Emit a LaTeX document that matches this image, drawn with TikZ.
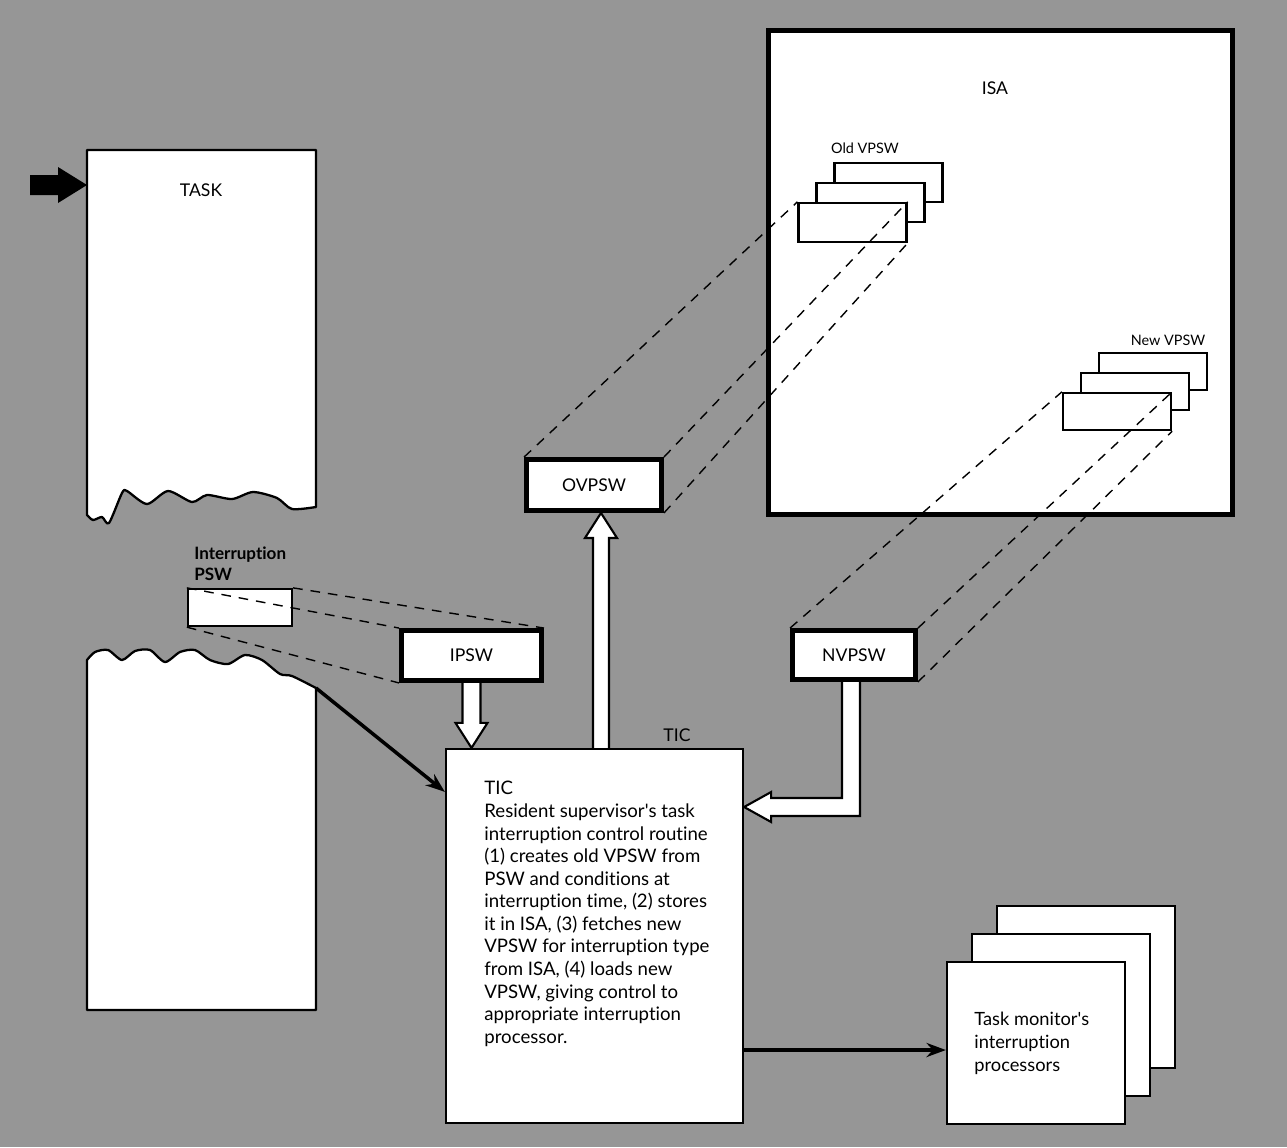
\documentclass[tikz,border=0pt]{standalone}
\usepackage{fontspec}
\setmainfont{Lato}[Ligatures={NoCommon}]
\usetikzlibrary{calc,arrows.meta}
\definecolor{bggray}{RGB}{150,150,150}
\pgfdeclarelayer{paper}
\pgfdeclarelayer{pipes}
\pgfsetlayers{paper,pipes,main}

\begin{document}
\begin{tikzpicture}[
    x=0.02cm, y=-0.02cm,
    every node/.style={inner sep=0pt, font=\fontsize{10}{12.75}\selectfont},
    thickbox/.style={draw, fill=white, line width=2.8pt},
    thinbox/.style={draw, fill=white, line width=1.3pt},
    projline/.style={dash pattern=on 5.5pt off 4.5pt, line width=0.8pt},
    hollow/.style={draw, fill=white, line width=1.2pt, line join=miter},
    flow/.style={line width=2pt, -{Stealth[length=11pt, width=8pt]}}
]

\begin{pgfonlayer}{paper}
\fill[bggray] (0,0) rectangle (1287,1147);

% task listing, upper part with torn edge
\draw[fill=white, line width=1.3pt, line join=round] (316,150) -- (87,150)
    -- plot[smooth, tension=0.45] coordinates {(87,515) (93,520) (102,517) (109,523)
    (122,493) (127,491) (147,504) (168,491) (192,502) (207,495) (232,499)
    (253,492) (277,498) (292,509) (316,507)} -- cycle;
\coordinate (taskin) at (87,185);

% task listing, lower part with torn edge
\draw[fill=white, line width=1.3pt, line join=round] (316,1010) -- (87,1010)
    -- plot[smooth, tension=0.45] coordinates {(87,660) (95,652) (108,650) (122,660)
    (135,651) (150,650) (165,662) (180,652) (195,650) (210,660) (228,664)
    (245,655) (262,660) (280,674) (292,676) (316,688)} -- cycle;
\coordinate (taskout) at (316,688);
\end{pgfonlayer}

\node (tasklbl) at (201,190) {TASK};

% entry arrow
\fill (30,175) -- (58,175) -- (58,167) -- (taskin) -- (58,203) -- (58,195)
    -- (30,195) -- cycle;

% interruption storage area
\node[thickbox, minimum width=9.28cm, minimum height=9.68cm] (isa) at (1000.5,272.5) {};
\node (isalbl) at (995,88) {ISA};

\foreach \k/\dx/\dy in {3/36/40, 2/18/20, 1/0/0}
    \node[thinbox, minimum width=2.16cm, minimum height=0.78cm] (old\k)
        at ({852.5+\dx},{222.5-\dy}) {};
\node[font=\fontsize{8.2}{10}\selectfont] (oldlbl) at (865,148) {Old VPSW};

\foreach \k/\dx/\dy in {3/36/40, 2/18/20, 1/0/0}
    \node[thinbox, minimum width=2.16cm, minimum height=0.74cm] (new\k)
        at ({1117+\dx},{411.5-\dy}) {};
\node[font=\fontsize{8.2}{10}\selectfont] (newlbl) at (1168,340) {New VPSW};

% psw copies
\node[thinbox, minimum width=2.08cm, minimum height=0.74cm] (psw) at (240,607.5) {};
\node[anchor=north west, align=left, font=\fontsize{9.7}{12.5}\selectfont\bfseries]
    (pswlbl) at (194,546) {Interruption\\PSW};

\node[thickbox, minimum width=2.8cm, minimum height=1.0cm] (ipsw) at (471.5,655.5) {IPSW};
\node[thickbox, minimum width=2.7cm, minimum height=1.02cm] (ovpsw) at (594,485) {OVPSW};
\node[thickbox, minimum width=2.46cm, minimum height=0.98cm] (nvpsw) at (854,655) {NVPSW};

% task interruption control
\node[thinbox, minimum width=5.94cm, minimum height=7.48cm] (tic) at (594.5,936) {};
\node (ticlbl) at (677,735) {TIC};
\node[anchor=north west, align=left, font=\fontsize{10.6}{12.85}\selectfont]
    (tictext) at (484,781) {TIC\\
    Resident supervisor\textquotesingle s task\\
    interruption control routine\\
    (1) creates old VPSW from\\
    PSW and conditions at\\
    interruption time, (2) stores\\
    it in ISA, (3) fetches new\\
    VPSW for interruption type\\
    from ISA, (4) loads new\\
    VPSW, giving control to\\
    appropriate interruption\\
    processor.};

% interruption processors
\foreach \k/\dx/\dy in {3/50/56, 2/25/28, 1/0/0}
    \node[thinbox, minimum width=3.56cm, minimum height=3.24cm] (proc\k)
        at ({1036+\dx},{1043-\dy}) {};
\node[anchor=west, align=left, font=\fontsize{10.4}{13}\selectfont]
    (proclbl) at (974,1043) {Task monitor\textquotesingle s\\interruption\\processors};

% projection lines
\draw[projline] (psw.north west) -- (ipsw.north west);
\draw[projline] (psw.north east) -- (ipsw.north east);
\draw[projline] (psw.south west) -- (ipsw.south west);
\draw[projline] (ovpsw.north west) -- (old1.north west);
\draw[projline] (ovpsw.north east) -- (old1.north east);
\draw[projline] (ovpsw.south east) -- (old1.south east);
\draw[projline] (nvpsw.north west) -- (new1.north west);
\draw[projline] (nvpsw.north east) -- (new1.north east);
\draw[projline] (nvpsw.south east) -- (new1.south east);

\begin{pgfonlayer}{pipes}
\coordinate (iptip) at (ipsw.south |- tic.north);
\draw[hollow] ($(ipsw.south)+(-9,0)$) -- ($(iptip)+(-9,-25)$) -- ($(iptip)+(-16,-25)$)
    -- (iptip) -- ($(iptip)+(16,-25)$) -- ($(iptip)+(9,-25)$) -- ($(ipsw.south)+(9,0)$);

\coordinate (ovtip) at ($(ovpsw.south)+(7,0)$);
\draw[hollow] ($(ovtip |- tic.north)+(-8,0)$) -- ($(ovtip)+(-8,25)$) -- ($(ovtip)+(-16,25)$)
    -- (ovtip) -- ($(ovtip)+(16,25)$) -- ($(ovtip)+(8,25)$) -- ($(ovtip |- tic.north)+(8,0)$);

\coordinate (nvbend) at (851,807);
\coordinate (nvtip) at (nvbend -| tic.east);
\draw[hollow] ($(nvpsw.south -| nvbend)+(-9,0)$) -- ($(nvbend)+(-9,-9)$)
    -- ($(nvtip)+(27,-9)$) -- ($(nvtip)+(27,-15)$) -- (nvtip) -- ($(nvtip)+(27,15)$)
    -- ($(nvtip)+(27,9)$) -- ($(nvbend)+(9,9)$) -- ($(nvpsw.south -| nvbend)+(9,0)$);
\end{pgfonlayer}

\draw[flow] (taskout) -- ($(tic.north west)+(0,44)$);
\draw[flow] ($(proc1.west -| tic.east)+(0,7)$) -- ($(proc1.west)+(0,7)$);

\end{tikzpicture}
\end{document}
